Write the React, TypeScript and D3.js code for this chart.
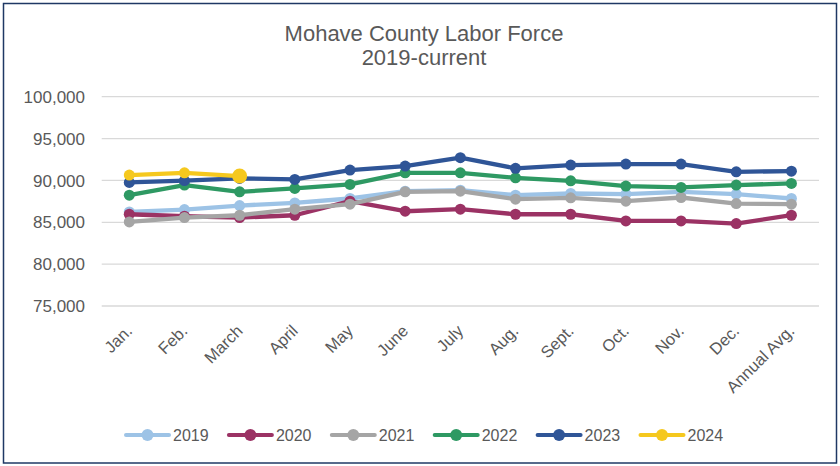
import * as d3 from 'd3'

const months = ['Jan.', 'Feb.', 'March', 'April', 'May', 'June', 'July', 'Aug.', 'Sept.', 'Oct.', 'Nov.', 'Dec.', 'Annual Avg.']
const yTicks = [75000, 80000, 85000, 90000, 95000, 100000]

const years = ['2019', '2020', '2021', '2022', '2023', '2024']
const colors = ['#9DC3E6', '#9B3264', '#A5A5A5', '#2E9963', '#2F5597', '#F5C81E']

const v2019 = [86240, 86520, 87000, 87310, 87840, 88720, 88840, 88240, 88440, 88360, 88640, 88360, 87840]
const v2020 = [85960, 85720, 85560, 85840, 87520, 86320, 86560, 85960, 85960, 85160, 85160, 84850, 85840]
const v2021 = [85040, 85560, 85840, 86560, 87160, 88640, 88720, 87760, 87920, 87520, 87960, 87240, 87160]
const v2022 = [88240, 89440, 88640, 89040, 89520, 90910, 90910, 90310, 89950, 89320, 89160, 89440, 89640]
const v2023 = [89760, 89980, 90240, 90120, 91235, 91710, 92710, 91440, 91830, 91950, 91950, 91030, 91110]
const v2024 = [90640, 90910, 90520]

const series = [v2019, v2020, v2021, v2022, v2023, v2024]

const width = 840
const height = 466
const textColor = '#595959'

export default function App() {
  const x = d3.scaleBand<string>().domain(months).range([101.7, 819])
  const cx = (m: string) => (x(m) ?? 0) + x.bandwidth() / 2
  const y = d3.scaleLinear().domain([75000, 100000]).range([306, 96.7])
  const fmt = d3.format(',')

  // legend slots across the bottom
  const legendX = d3.scalePoint<string>().domain(years).range([126, 126 + 5 * 102.9])

  const line = d3
    .line<number>()
    .x((_, i) => cx(months[i]))
    .y((d) => y(d))

  return (
    <svg
      width={width}
      height={height}
      style={{ position: 'absolute', left: 0, top: 0, fontFamily: 'Liberation Sans, Arial, sans-serif' }}
    >
      <rect x={0} y={0} width={width} height={height} fill="#fff" />
      <rect x={3.5} y={3.5} width={833} height={459.5} fill="none" stroke="#1F3864" strokeWidth={1.5} />

      <text x={424} y={41} textAnchor="middle" fontSize={22} fill={textColor}>
        Mohave County Labor Force
      </text>
      <text x={424} y={65} textAnchor="middle" fontSize={22} fill={textColor}>
        2019-current
      </text>

      {yTicks.map((t) => (
        <g key={t}>
          <line x1={101.7} x2={819} y1={y(t)} y2={y(t)} stroke="#D9D9D9" strokeWidth={1.3} />
          <text x={85} y={y(t)} dy="0.36em" textAnchor="end" fontSize={17} fill={textColor}>
            {fmt(t)}
          </text>
        </g>
      ))}

      {months.map((m) => (
        <text
          key={m}
          transform={`translate(${cx(m) + 4},${332}) rotate(-45)`}
          textAnchor="end"
          fontSize={16.5}
          fill={textColor}
        >
          {m}
        </text>
      ))}

      {series.map((vals, si) => (
        <g key={years[si]}>
          <path d={line(vals) ?? ''} fill="none" stroke={colors[si]} strokeWidth={4.3} strokeLinejoin="round" />
          {vals.map((v, i) => (
            <circle
              key={i}
              cx={cx(months[i])}
              cy={y(v)}
              r={si === 5 && i === vals.length - 1 ? 7.5 : 5.5}
              fill={colors[si]}
            />
          ))}
        </g>
      ))}

      {years.map((yr, i) => (
        <g key={yr} transform={`translate(${legendX(yr)},435)`}>
          <line x1={0} x2={43} y1={0} y2={0} stroke={colors[i]} strokeWidth={4} strokeLinecap="round" />
          <circle cx={21.5} cy={0} r={6} fill={colors[i]} />
          <text x={47} y={0} dy="0.36em" fontSize={16} fill={textColor}>
            {yr}
          </text>
        </g>
      ))}
    </svg>
  )
}
